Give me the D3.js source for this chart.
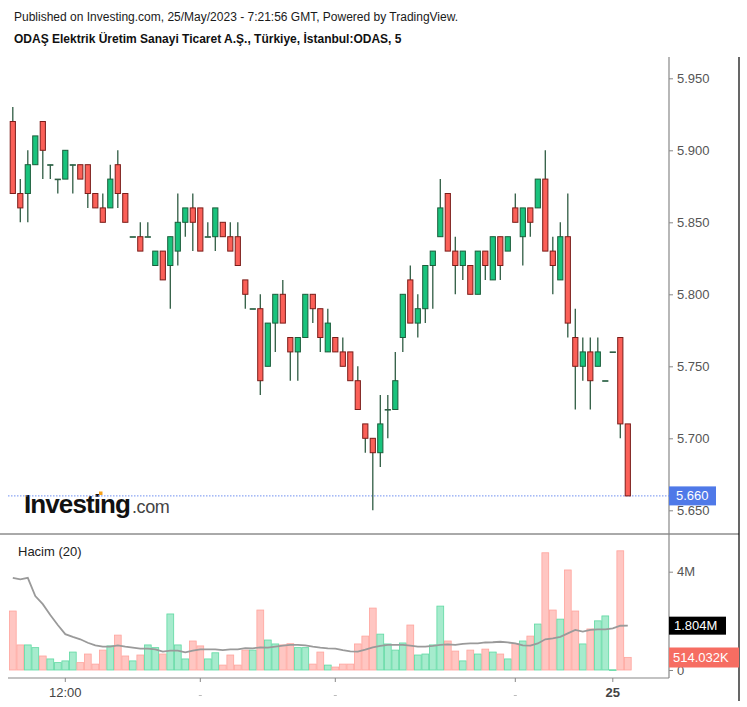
<!DOCTYPE html>
<html>
<head>
<meta charset="utf-8">
<script src="https://cdn.jsdelivr.net/npm/d3@7/dist/d3.min.js"></script>
<style>
  html, body { margin: 0; padding: 0; background: #ffffff; }
  svg { display: block; font-family: "Liberation Sans", Arial, sans-serif; }
</style>
</head>
<body>
<script>
// ---------- DATA ----------
const openP  = [5.92,5.87,5.87,5.89,5.92,5.89,5.88,5.88,5.89,5.89,5.89,5.87,5.86,5.86,5.89,5.87,5.84,5.84,5.84,5.82,
                5.83,5.82,5.83,5.85,5.86,5.86,5.84,5.84,5.85,5.84,5.84,5.81,5.79,5.79,5.75,5.78,5.80,5.77,5.76,5.77,
                5.80,5.79,5.76,5.77,5.76,5.76,5.74,5.71,5.70,5.69,5.72,5.72,5.77,5.81,5.78,5.79,5.82,5.84,5.87,5.83,
                5.82,5.82,5.80,5.83,5.81,5.84,5.83,5.86,5.84,5.86,5.86,5.88,5.83,5.81,5.84,5.77,5.75,5.76,5.75,5.74,
                5.76,5.77,5.71];
const highP  = [5.93,5.88,5.90,5.91,5.92,5.89,5.88,5.90,5.89,5.89,5.89,5.87,5.87,5.89,5.90,5.87,5.84,5.85,5.85,5.83,
                5.83,5.84,5.87,5.86,5.87,5.86,5.85,5.86,5.85,5.85,5.85,5.81,5.79,5.80,5.78,5.80,5.81,5.77,5.77,5.80,
                5.80,5.79,5.79,5.77,5.77,5.76,5.75,5.71,5.70,5.73,5.73,5.76,5.80,5.82,5.80,5.82,5.83,5.88,5.87,5.84,
                5.83,5.82,5.83,5.83,5.84,5.84,5.84,5.87,5.86,5.86,5.88,5.90,5.84,5.85,5.87,5.79,5.77,5.77,5.77,5.74,
                5.76,5.77,5.71];
const lowP   = [5.87,5.85,5.85,5.89,5.88,5.88,5.87,5.88,5.87,5.88,5.86,5.86,5.85,5.86,5.86,5.85,5.84,5.83,5.84,5.82,
                5.81,5.79,5.82,5.84,5.83,5.83,5.84,5.83,5.84,5.83,5.82,5.79,5.79,5.73,5.75,5.76,5.78,5.74,5.74,5.77,
                5.78,5.76,5.76,5.76,5.75,5.74,5.72,5.69,5.65,5.68,5.70,5.72,5.76,5.78,5.77,5.78,5.79,5.84,5.83,5.80,
                5.81,5.80,5.80,5.81,5.81,5.81,5.83,5.85,5.82,5.84,5.86,5.83,5.80,5.81,5.77,5.72,5.74,5.72,5.75,5.74,
                5.76,5.70,5.66];
const closeP = [5.87,5.86,5.89,5.91,5.90,5.89,5.88,5.90,5.89,5.88,5.87,5.86,5.85,5.88,5.87,5.85,5.84,5.83,5.84,5.83,
                5.81,5.84,5.85,5.86,5.85,5.83,5.84,5.86,5.84,5.83,5.82,5.80,5.79,5.74,5.78,5.80,5.78,5.76,5.77,5.80,
                5.79,5.77,5.78,5.76,5.75,5.74,5.72,5.70,5.69,5.71,5.72,5.74,5.80,5.78,5.79,5.82,5.83,5.86,5.83,5.82,
                5.83,5.80,5.83,5.82,5.84,5.82,5.84,5.85,5.86,5.85,5.88,5.83,5.82,5.84,5.78,5.75,5.76,5.74,5.76,5.74,
                5.76,5.71,5.66];
// volume in millions
const volume = [2.40,1.02,1.02,0.91,0.57,0.45,0.30,0.37,0.73,0.30,0.65,0.24,0.81,0.98,1.42,0.57,0.37,0.61,1.02,0.91,
                0.65,2.28,1.02,0.45,1.18,0.98,0.45,0.70,0.20,0.61,0.20,0.81,0.81,2.44,1.22,1.06,1.02,1.07,0.91,0.91,
                0.24,0.73,0.20,0.12,0.24,0.24,1.06,1.38,2.52,1.46,1.06,0.81,1.10,1.83,0.61,0.65,1.02,2.60,1.18,0.77,
                0.37,0.81,0.65,0.85,0.73,0.65,0.45,1.07,1.18,1.38,1.87,4.77,2.44,2.07,4.07,2.40,1.06,1.67,2.00,2.20,
                0.01,4.85,0.514];
// 20-period volume average (millions)
const volumeMA = [3.75,3.69,3.75,3.01,2.68,2.24,1.83,1.46,1.35,1.25,1.11,1.00,0.95,0.95,1.00,0.95,0.91,0.87,0.87,0.84,
                  0.75,0.79,0.79,0.72,0.79,0.84,0.84,0.84,0.81,0.84,0.84,0.89,0.88,0.92,0.91,0.95,0.99,1.02,1.02,1.00,
                  0.95,0.91,0.88,0.87,0.81,0.76,0.75,0.83,0.92,0.98,1.02,1.02,1.02,0.99,0.95,0.95,0.98,1.02,1.04,1.02,
                  1.06,1.08,1.08,1.12,1.13,1.15,1.12,1.08,1.00,0.99,1.08,1.25,1.29,1.35,1.49,1.63,1.56,1.63,1.65,1.65,
                  1.69,1.80,1.804];
const priceTicks = [5.65,5.70,5.75,5.80,5.85,5.90,5.95];
const volumeTicks = [0,4];
const volumeTickLabels = ["0","4M"];
const timeTickIdx = [7,25,43,67,80];
const timeTickLabels = ["12:00","","","","25"];
const lastPrice = 5.66;
const lastVolumeLabel = "514.032K";
const lastMALabel = "1.804M";
const headerLine1 = "Published on Investing.com, 25/May/2023 - 7:21:56 GMT, Powered by TradingView.";
const headerLine2 = "ODAŞ Elektrik Üretim Sanayi Ticaret A.Ş., Türkiye, İstanbul:ODAS, 5";
const volumeTitle = "Hacim (20)";

// ---------- LAYOUT ----------
const W = 747, H = 707;
const axisX = 669, rightEdge = 739;
const paneTop = 57, sepY = 534, timeAxisY = 678;

const svg = d3.select("body").append("svg").attr("width", W).attr("height", H);

const n = closeP.length;
const x = d3.scaleLinear().domain([0, n - 1]).range([12.8, 627.8]);
const y = d3.scaleLinear().domain([5.65, 5.95]).range([510.3, 78.3]);
const yv = d3.scaleLinear().domain([0, 4]).range([670, 571.7]);

const upFill = "#19c37d", upStroke = "#1b5e3b";
const dnFill = "#fb6058", dnStroke = "#7b1d1a";
const wickCol = "#2f5c43";

// header
svg.append("text").attr("x", 14).attr("y", 20.5).attr("font-size", 12).attr("fill", "#1a1a1a").text(headerLine1);
svg.append("text").attr("x", 14).attr("y", 42.5).attr("font-size", 12).attr("font-weight", "bold").attr("fill", "#111").text(headerLine2);

// frame lines
svg.append("line").attr("x1", 0).attr("x2", rightEdge).attr("y1", sepY).attr("y2", sepY).attr("stroke", "#555").attr("stroke-width", 1);
svg.append("line").attr("x1", axisX).attr("x2", axisX).attr("y1", paneTop).attr("y2", timeAxisY).attr("stroke", "#888").attr("stroke-width", 1.2);
svg.append("line").attr("x1", rightEdge).attr("x2", rightEdge).attr("y1", paneTop).attr("y2", 701).attr("stroke", "#000").attr("stroke-width", 1.2);
svg.append("line").attr("x1", 8).attr("x2", axisX).attr("y1", timeAxisY).attr("y2", timeAxisY).attr("stroke", "#888").attr("stroke-width", 1.2);

// Investing logo
const logo = svg.append("g");
logo.append("text").attr("x", 24).attr("y", 513).attr("font-size", 26).attr("font-weight", "bold")
  .attr("letter-spacing", -0.9).attr("fill", "#111").text("Investing");
logo.append("text").attr("x", 132).attr("y", 513).attr("font-size", 18).attr("fill", "#444")
  .attr("letter-spacing", -0.4).text(".com");
logo.append("rect").attr("x", 99).attr("y", 491.5).attr("width", 3.5).attr("height", 3.5).attr("fill", "#f7a21b");

// last-price dotted line
svg.append("line").attr("x1", 8).attr("x2", axisX).attr("y1", y(lastPrice)).attr("y2", y(lastPrice))
  .attr("stroke", "#6f8ff0").attr("stroke-width", 1).attr("stroke-dasharray", "1.5,1.5");

// candles
const idx = d3.range(n);
const cg = svg.append("g");
cg.selectAll("line.wick").data(idx).join("line").attr("class", "wick")
  .attr("x1", i => x(i)).attr("x2", i => x(i))
  .attr("y1", i => y(highP[i])).attr("y2", i => y(lowP[i]))
  .attr("stroke", wickCol).attr("stroke-width", 1.3);
cg.selectAll("rect.body").data(idx).join("rect").attr("class", "body")
  .attr("x", i => x(i) - 2.6)
  .attr("width", 5.2)
  .attr("y", i => y(Math.max(openP[i], closeP[i])))
  .attr("height", i => Math.max(0.6, Math.abs(y(openP[i]) - y(closeP[i]))))
  .attr("fill", i => closeP[i] >= openP[i] ? upFill : dnFill)
  .attr("stroke", i => openP[i] === closeP[i] ? wickCol : (closeP[i] > openP[i] ? upStroke : dnStroke))
  .attr("stroke-width", 1);

// price axis
const pAxis = svg.append("g").attr("transform", `translate(${axisX},0)`)
  .call(d3.axisRight(y).tickValues(priceTicks).tickFormat(d3.format(".3f")).tickSize(4).tickPadding(4));
pAxis.select(".domain").remove();
pAxis.selectAll("line").attr("stroke", "#888");
pAxis.selectAll("text").attr("font-size", 13).attr("fill", "#555").attr("font-family", "Liberation Sans, Arial, sans-serif");

// last price label
const lp = svg.append("g");
lp.append("rect").attr("x", axisX).attr("y", y(lastPrice) - 9.5).attr("width", 47).attr("height", 19).attr("fill", "#4f79e8");
lp.append("text").attr("x", axisX + 7).attr("y", y(lastPrice) + 4.5).attr("font-size", 13).attr("fill", "#fff").text(d3.format(".3f")(lastPrice));

// volume pane
svg.append("text").attr("x", 18).attr("y", 556).attr("font-size", 13).attr("fill", "#222").text(volumeTitle);
const vg = svg.append("g");
vg.selectAll("rect").data(idx).join("rect")
  .attr("x", i => x(i) - 3.4).attr("width", 6.8)
  .attr("y", i => yv(volume[i])).attr("height", i => Math.max(0.8, yv(0) - yv(volume[i])))
  .attr("fill", i => closeP[i] >= openP[i] ? "#a6ebcd" : "#ffc6c2")
  .attr("stroke", i => closeP[i] >= openP[i] ? "#5fd9a2" : "#ffa49d")
  .attr("stroke-width", 0.8);

const maLine = d3.line().x(i => x(i)).y(i => yv(volumeMA[i]));
svg.append("path").datum(idx).attr("d", maLine).attr("fill", "none").attr("stroke", "#9a9a9a").attr("stroke-width", 1.8);

// volume axis
const vAxis = svg.append("g").attr("transform", `translate(${axisX},0)`)
  .call(d3.axisRight(yv).tickValues(volumeTicks).tickFormat((d, k) => volumeTickLabels[k]).tickSize(4).tickPadding(4));
vAxis.select(".domain").remove();
vAxis.selectAll("line").attr("stroke", "#888");
vAxis.selectAll("text").attr("font-size", 13).attr("fill", "#555").attr("font-family", "Liberation Sans, Arial, sans-serif");

// MA label
const maY = yv(volumeMA[n - 1]);
svg.append("rect").attr("x", axisX).attr("y", maY - 9).attr("width", 57).attr("height", 18).attr("fill", "#000");
svg.append("text").attr("x", axisX + 5).attr("y", maY + 4.5).attr("font-size", 13).attr("fill", "#fff").text(lastMALabel);
// last volume label
const lvY = 657.5;
svg.append("rect").attr("x", axisX).attr("y", lvY - 10).attr("width", 70).attr("height", 20).attr("fill", "#f66d62");
svg.append("text").attr("x", axisX + 4).attr("y", lvY + 4.5).attr("font-size", 13).attr("fill", "#fff").text(lastVolumeLabel);

// time axis
const tg = svg.append("g");
timeTickIdx.forEach((ti, k) => {
  tg.append("line").attr("x1", x(ti)).attr("x2", x(ti)).attr("y1", timeAxisY).attr("y2", timeAxisY + 4).attr("stroke", "#888");
  if (timeTickLabels[k]) {
    tg.append("text").attr("x", x(ti)).attr("y", 697).attr("text-anchor", "middle").attr("font-size", 13)
      .attr("fill", "#444").attr("font-weight", timeTickLabels[k] === "25" ? "bold" : "normal").text(timeTickLabels[k]);
  } else {
    tg.append("line").attr("x1", x(ti) - 1.5).attr("x2", x(ti) + 1.5).attr("y1", 695.5).attr("y2", 695.5).attr("stroke", "#bbb");
  }
});
</script>
</body>
</html>
